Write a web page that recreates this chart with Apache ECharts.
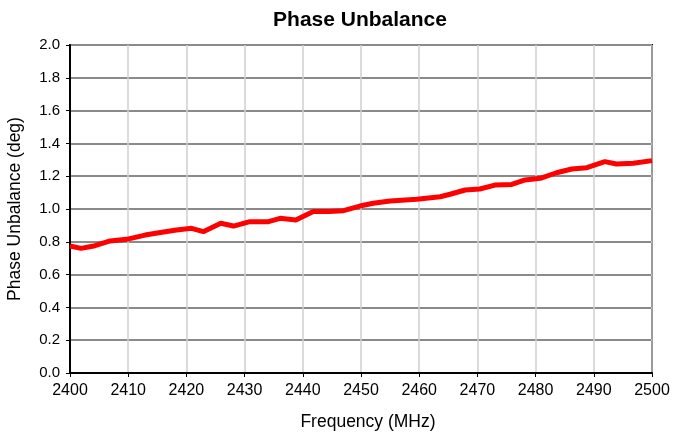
<!DOCTYPE html>
<html>
<head>
<meta charset="utf-8">
<script src="https://cdn.jsdelivr.net/npm/echarts@6/dist/echarts.min.js"></script>
<style>
html, body { margin: 0; padding: 0; background: #fff; }
#chart { width: 686px; height: 436px; }
</style>
</head>
<body>
<div id="chart"></div>
<script>
// frequency (MHz) and phase unbalance (deg)
var freq = [2400, 2401.9, 2404.3, 2406.9, 2409.7, 2412.9, 2415.8, 2418.3, 2420.9, 2422.9,
	2425.9, 2428.1, 2430.9, 2434.1, 2436.1, 2438.8, 2441.8, 2444.5, 2447.0, 2449.8,
	2452.1, 2455.0, 2459.6, 2463.6, 2465.3, 2467.9, 2470.4, 2473.0, 2475.9, 2478.2,
	2480.8, 2483.6, 2486.2, 2488.8, 2491.9, 2493.9, 2496.8, 2500];
var unbalance = [0.774, 0.760, 0.776, 0.805, 0.815, 0.841, 0.858, 0.872, 0.882, 0.862,
	0.913, 0.896, 0.923, 0.923, 0.943, 0.933, 0.985, 0.985, 0.990, 1.018,
	1.035, 1.049, 1.059, 1.075, 1.090, 1.116, 1.122, 1.146, 1.150, 1.177,
	1.187, 1.221, 1.244, 1.252, 1.289, 1.274, 1.279, 1.295];

var font = 'Arial, "Liberation Sans", sans-serif';
var points = freq.map(function (f, i) { return [f, unbalance[i]]; });

var chart = echarts.init(document.getElementById('chart'));
chart.setOption({
	animation: false,
	title: {
		text: 'Phase Unbalance',
		left: 355,
		textAlign: 'center',
		top: 5,
		textStyle: { fontFamily: font, fontSize: 21, fontWeight: 'bold', color: '#000' }
	},
	grid: {
		left: 70,
		right: 34,
		top: 45,
		bottom: 63,
		outerBoundsMode: 'none',
		containLabel: false,
		show: true,
		borderColor: '#000',
		borderWidth: 2,
		backgroundColor: '#fff'
	},
	xAxis: {
		type: 'value',
		min: 2400,
		max: 2500,
		interval: 10,
		name: 'Frequency (MHz)',
		nameLocation: 'middle',
		nameGap: 40,
		nameTextStyle: { fontFamily: font, fontSize: 17.5, color: '#000', padding: [0, 0, 0, 14] },
		axisLine: { lineStyle: { color: '#000', width: 2 } },
		axisTick: { show: true, length: 4, lineStyle: { color: '#000', width: 1 } },
		axisLabel: {
			fontFamily: font, fontSize: 16, color: '#000', margin: 10,
			formatter: function (v) { return String(v); }
		},
		splitLine: { show: true, lineStyle: { color: '#cfcfcf', width: 1.5 } }
	},
	yAxis: {
		type: 'value',
		min: 0,
		max: 2,
		interval: 0.2,
		name: 'Phase Unbalance (deg)',
		nameLocation: 'middle',
		nameGap: 46,
		nameTextStyle: { fontFamily: font, fontSize: 17.5, color: '#000' },
		axisLine: { show: true, lineStyle: { color: '#000', width: 2 } },
		axisTick: { show: true, length: 4, lineStyle: { color: '#000', width: 1 } },
		axisLabel: {
			fontFamily: font, fontSize: 15, color: '#000', margin: 10,
			formatter: function (v) { return v.toFixed(1); }
		},
		splitLine: { show: true, lineStyle: { color: '#8a8a8a', width: 2 } }
	},
	series: [{
		type: 'line',
		data: points,
		showSymbol: false,
		lineStyle: { color: '#ff0000', width: 5 },
		z: 5
	}]
});
</script>
</body>
</html>
